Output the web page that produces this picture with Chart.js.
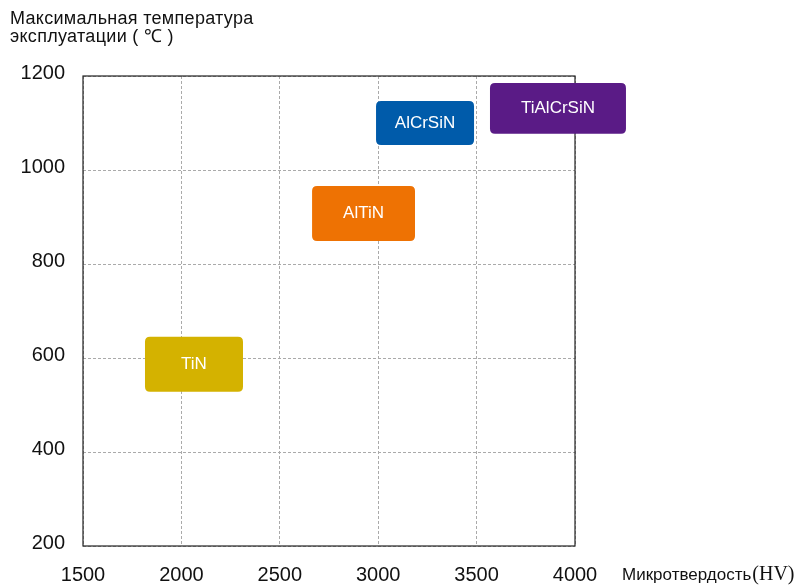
<!DOCTYPE html>
<html>
<head>
<meta charset="utf-8">
<script src="https://cdn.jsdelivr.net/npm/chart.js@4/dist/chart.umd.min.js"></script>
<style>
  html, body { margin: 0; padding: 0; background: #ffffff; }
  #wrap { width: 799px; height: 586px; }
</style>
</head>
<body>
<div id="wrap"><canvas id="c" width="799" height="586"></canvas></div>
<script>
// Coating families: hardness range (HV) and max operating temperature range (°C)
const coatings    = ['TiN', 'AlTiN', 'AlCrSiN', 'TiAlCrSiN'];
const hardnessMin = [1815, 2664, 2989, 3568];
const hardnessMax = [2313, 3187, 3487, 4259];
const tempMin     = [528, 849, 1053, 1077];
const tempMax     = [645, 966, 1147, 1185];
const boxColors   = ['#D4B200', '#EE7203', '#005BAA', '#5A1B86'];

const xTicks = [1500, 2000, 2500, 3000, 3500, 4000];
const yTicks = [200, 400, 600, 800, 1000, 1200];

const yTitleLines = ['Максимальная температура', 'эксплуатации ( ℃ )'];
const xTitle = 'Микротвердость';
const xTitleUnit = '(HV)';

const FONT = '"Liberation Sans", Arial, sans-serif';

function roundRect(ctx, x, y, w, h, r) {
  ctx.beginPath();
  ctx.moveTo(x + r, y);
  ctx.lineTo(x + w - r, y);
  ctx.quadraticCurveTo(x + w, y, x + w, y + r);
  ctx.lineTo(x + w, y + h - r);
  ctx.quadraticCurveTo(x + w, y + h, x + w - r, y + h);
  ctx.lineTo(x + r, y + h);
  ctx.quadraticCurveTo(x, y + h, x, y + h - r);
  ctx.lineTo(x, y + r);
  ctx.quadraticCurveTo(x, y, x + r, y);
  ctx.closePath();
}

// Draws the frame, the coating boxes and the axis titles
const coatingBoxes = {
  id: 'coatingBoxes',
  afterDatasetsDraw(chart) {
    const { ctx, chartArea: a, scales: { x, y } } = chart;
    ctx.save();
    // frame
    ctx.strokeStyle = '#222';
    ctx.lineWidth = 1.2;
    ctx.strokeRect(a.left, a.top, a.right - a.left, a.bottom - a.top);

    // boxes
    coatings.forEach((name, i) => {
      const x0 = x.getPixelForValue(hardnessMin[i]);
      const x1 = x.getPixelForValue(hardnessMax[i]);
      const y0 = y.getPixelForValue(tempMax[i]);
      const y1 = y.getPixelForValue(tempMin[i]);
      ctx.fillStyle = boxColors[i];
      roundRect(ctx, x0, y0, x1 - x0, y1 - y0, 5);
      ctx.fill();
      ctx.fillStyle = '#ffffff';
      ctx.font = '17px ' + FONT;
      ctx.textAlign = 'center';
      ctx.textBaseline = 'middle';
      ctx.fillText(name, (x0 + x1) / 2, (y0 + y1) / 2);
    });

    // y-axis title (top-left)
    ctx.fillStyle = '#111';
    ctx.font = '18px ' + FONT;
    ctx.letterSpacing = '0.3px';
    ctx.textAlign = 'left';
    ctx.textBaseline = 'alphabetic';
    ctx.fillText(yTitleLines[0], 10, 24);
    ctx.fillText(yTitleLines[1], 10, 42);
    ctx.letterSpacing = '0px';

    // x-axis title (right of the axis)
    ctx.font = '17px ' + FONT;
    ctx.fillText(xTitle, 622, 580);
    const w = ctx.measureText(xTitle).width;
    ctx.font = '20px "Liberation Serif", serif';
    ctx.fillText(xTitleUnit, 622 + w + 1, 580);
    ctx.restore();
  }
};

new Chart(document.getElementById('c'), {
  type: 'scatter',
  data: { datasets: [{ data: [], pointRadius: 0 }] },
  options: {
    responsive: false,
    animation: false,
    events: [],
    layout: { padding: { top: 76, right: 224, left: 0, bottom: 0 } },
    plugins: { legend: { display: false }, tooltip: { enabled: false } },
    scales: {
      x: {
        type: 'linear',
        min: 1500, max: 4000,
        afterBuildTicks: s => { s.ticks = xTicks.map(v => ({ value: v })); },
        afterFit: s => { s.height = 40; },
        border: { display: false, dash: [3, 2] },
        grid: { color: '#aaaaaa', lineWidth: 1, drawTicks: false },
        ticks: { color: '#111', font: { size: 20, family: FONT }, padding: 17, maxRotation: 0,
                 callback: v => String(v) }
      },
      y: {
        type: 'linear',
        min: 200, max: 1200,
        afterBuildTicks: s => { s.ticks = yTicks.map(v => ({ value: v })); },
        afterFit: s => { s.width = 83; },
        border: { display: false, dash: [3, 2] },
        grid: { color: '#aaaaaa', lineWidth: 1, drawTicks: false },
        ticks: { color: '#111', font: { size: 20, family: FONT }, padding: 18, labelOffset: -3,
                 callback: v => String(v) }
      }
    }
  },
  plugins: [coatingBoxes]
});
</script>
</body>
</html>
